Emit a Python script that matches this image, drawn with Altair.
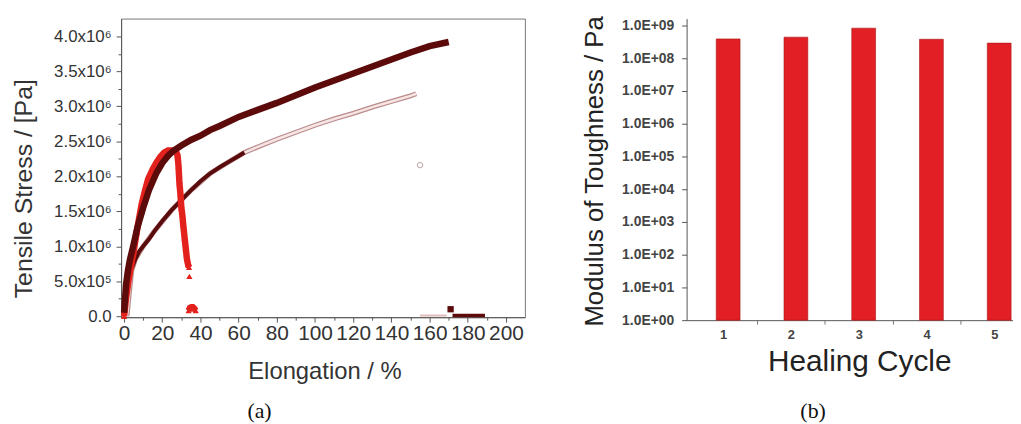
import altair as alt
import pandas as pd

# ---------------- Panel (a): tensile stress (x10^6 Pa) vs elongation (%) ----------------
# bright red triangles
red_x = [0, 1, 2, 3, 4, 5, 6.6, 8, 9.2, 11, 12.6, 15, 17, 19, 21, 23, 25, 27, 28, 28.5, 29, 29.5,
         30, 30.5, 31, 31.7, 32.3, 32.9, 33.5, 34, 34.2, 33.8, 34.5, 35.2, 36, 36.8, 37.5]
red_y = [0.0, 0.25, 0.45, 0.62, 0.78, 0.92, 1.2, 1.42, 1.6, 1.8, 1.96, 2.1, 2.2, 2.28, 2.34, 2.37, 2.37,
         2.37, 2.3, 2.15, 1.9, 1.75, 1.55, 1.45, 1.3, 1.12, 0.97, 0.82, 0.74, 0.7, 0.57,
         0.08, 0.12, 0.13, 0.13, 0.11, 0.08]
red_seg = [1] * 30 + [2] + [3] * 6

# dark maroon squares (upper, thick curve)
dark_x = [0, 1, 2, 3, 5, 7, 10, 13, 17, 20, 23, 26, 30, 35, 40, 45, 50, 60, 70, 80, 90, 100, 110,
          120, 130, 140, 150, 160, 170, 171, 172, 176, 180, 184, 189]
dark_y = [0.05, 0.45, 0.65, 0.8, 1.03, 1.27, 1.55, 1.8, 2.05, 2.19, 2.29, 2.37, 2.44, 2.52, 2.58,
          2.66, 2.72, 2.85, 2.95, 3.05, 3.16, 3.27, 3.37, 3.47, 3.57, 3.67, 3.77, 3.86, 3.92,
          0.1, 0.01, 0.01, 0.01, 0.01, 0.01]
dark_seg = [1] * 29 + [2] + [3] * 5

# dark maroon (lower, thinner curve)
low_x = [4, 6, 8, 10, 13, 16, 20, 25, 30, 35, 40, 45, 50, 55, 60, 63]
low_y = [0.68, 0.82, 0.93, 1.0, 1.1, 1.22, 1.36, 1.52, 1.66, 1.8, 1.93, 2.04, 2.13, 2.21, 2.29, 2.34]

# pale pink open circles
pink_x = [1.5, 2, 2.5, 3, 3.5, 4, 6, 10, 16, 25, 35, 45, 55, 63, 70, 80, 90, 100, 110, 120, 130,
          140, 150, 153, 155, 155, 160, 165, 169]
pink_y = [0.0, 0.12, 0.27, 0.4, 0.52, 0.65, 0.82, 1.0, 1.22, 1.52, 1.8, 2.04, 2.21, 2.34, 2.42,
          2.53, 2.63, 2.73, 2.82, 2.9, 2.99, 3.07, 3.15, 3.18, 2.16, 0.01, 0.01, 0.01, 0.01]
pink_seg = [1] * 24 + [2] + [3] * 4

x_ticks_a = [0, 20, 40, 60, 80, 100, 120, 140, 160, 180, 200]
x_minor_a = [10, 30, 50, 70, 90, 110, 130, 150, 170, 190]
y_ticks_a = [0, 0.5, 1.0, 1.5, 2.0, 2.5, 3.0, 3.5, 4.0]
y_minor_a = [0.25, 0.75, 1.25, 1.75, 2.25, 2.75, 3.25, 3.75]

# ---------------- Panel (b): modulus of toughness ----------------
cycles = [1, 2, 3, 4, 5]
toughness = [3.9e8, 4.4e8, 8.3e8, 3.8e8, 2.9e8]
y_ticks_b = [1e0, 1e1, 1e2, 1e3, 1e4, 1e5, 1e6, 1e7, 1e8, 1e9]
x_band_ticks_b = [1.5, 2.5, 3.5, 4.5]

# ---------------- tables ----------------
def table(name, xs, ys, segs):
    return pd.DataFrame({"series": name, "x": xs, "y": ys, "seg": segs})

df_a = pd.concat([
    table("red", red_x, red_y, red_seg),
    table("dark", dark_x, dark_y, dark_seg),
    table("low", low_x, low_y, [1] * len(low_x)),
    table("pink", pink_x, pink_y, pink_seg),
], ignore_index=True)
df_b = pd.DataFrame({"cycle": cycles, "toughness": toughness})

FONT = "Liberation Sans"
xs_a = alt.Scale(domain=[-1.56, 209.9], nice=False, zero=False)
ys_a = alt.Scale(domain=[-0.014, 4.255], nice=False, zero=False)

x_main = alt.Axis(values=x_ticks_a, title="Elongation / %", grid=False, tickSize=5,
                  labelFontSize=21, labelFont=FONT, labelColor="#333", labelPadding=0,
                  titleFont=FONT, titleFontSize=24, titleFontWeight="normal", titleColor="#333",
                  titleX=205, titleY=62, titleBaseline="alphabetic", titleAnchor="middle",
                  domainColor="#555", tickColor="#555", orient="bottom")
y_main = alt.Axis(values=y_ticks_a, title="Tensile Stress / [Pa]", grid=False, tickSize=5,
                  labelFontSize=17, labelFont=FONT, labelColor="#333", labelPadding=5,
                  labelExpr="datum.value == 0 ? '0.0' : (datum.value < 1 ? format(datum.value * 10, '.1f') + 'x10⁵' : format(datum.value, '.1f') + 'x10⁶')",
                  titleFont=FONT, titleFontSize=25, titleFontWeight="normal", titleColor="#333",
                  titleX=-98, titleY=171, titleAngle=270, titleAlign="center", titleBaseline="middle",
                  domainColor="#555", tickColor="#555", orient="left")
x_minor = alt.Axis(values=x_minor_a, title=None, labels=False, grid=False, tickSize=3,
                   domain=False, tickColor="#555", orient="bottom")
y_minor = alt.Axis(values=y_minor_a, title=None, labels=False, grid=False, tickSize=3,
                   domain=False, tickColor="#555", orient="left")

base = alt.Chart(df_a)

def enc(axis_x=None, axis_y=None, **kw):
    return dict(x=alt.X("x:Q", scale=xs_a, axis=axis_x),
                y=alt.Y("y:Q", scale=ys_a, axis=axis_y), **kw)

pink_outer = base.mark_line(color="#b98c8c", strokeWidth=5).encode(
    **enc(x_main, y_main, detail="seg:N")
).transform_filter("datum.series == 'pink' && datum.seg == 1")
pink_inner = base.mark_line(color="#f7e4e4", strokeWidth=2.5).encode(
    **enc(x_minor, y_minor, detail="seg:N")
).transform_filter("datum.series == 'pink' && datum.seg == 1")
pink_tail = base.mark_line(color="#e2bcbc", strokeWidth=2).encode(
    **enc()
).transform_filter("datum.series == 'pink' && datum.seg == 3")
pink_pt = base.mark_point(shape="circle", filled=False, color="#a08080", size=30, strokeWidth=1).encode(
    **enc()
).transform_filter("datum.series == 'pink' && datum.seg == 2")

low_line = base.mark_line(color="#5a0b0b", strokeWidth=4).encode(
    **enc()
).transform_filter("datum.series == 'low'")

red_line = base.mark_line(color="#e3221d", strokeWidth=6.5).encode(
    **enc(detail="seg:N")
).transform_filter("datum.series == 'red'")
red_pt = base.mark_point(shape="triangle-up", filled=True, color="#e3221d", size=40, opacity=1).encode(
    **enc()
).transform_filter("datum.series == 'red'")

dark_line = base.mark_line(color="#5c0a0a", strokeWidth=6.5).encode(
    **enc()
).transform_filter("datum.series == 'dark' && datum.seg == 1")
dark_tail = base.mark_line(color="#5c0a0a", strokeWidth=3.5).encode(
    **enc()
).transform_filter("datum.series == 'dark' && datum.seg == 3")
dark_pt = base.mark_point(shape="square", filled=True, color="#5c0a0a", size=40, opacity=1).encode(
    **enc()
).transform_filter("datum.series == 'dark' && datum.seg == 2")

panel_a = alt.layer(
    pink_outer, pink_inner, pink_tail, pink_pt, low_line, red_line, red_pt, dark_line, dark_tail, dark_pt,
    view=alt.ViewBackground(stroke="#777", strokeWidth=1),
).resolve_axis(x="independent", y="independent").properties(
    width=407, height=301,
    title=alt.TitleParams("(a)", orient="bottom", anchor="middle", frame="group", dx=-64, offset=18,
                          font="Liberation Serif", fontSize=22, fontWeight="normal", color="#111"),
)

# ---------------- panel (b) ----------------
xs_b = alt.Scale(domain=[0.46, 5.277], nice=False, zero=False, padding=0)
ys_b = alt.Scale(type="log", domain=[1, 1.63e9], nice=False, padding=0)

y_axis_b = alt.Axis(
    values=y_ticks_b, title="Modulus of Toughness / Pa", grid=False, tickSize=5, labelPadding=8,
    labelExpr="'1.0E+0' + round(log(datum.value) / LN10)",
    labelFont=FONT, labelFontSize=14, labelFontWeight="bold", labelColor="#444",
    titleFont=FONT, titleFontSize=26, titleFontWeight="normal", titleColor="#222",
    titleX=-93, titleY=153.5, titleAngle=270, titleAlign="center", titleBaseline="middle",
    domainColor="#555", tickColor="#555", orient="left")

bars = alt.Chart(df_b).mark_bar(size=24, xOffset=5, color="#e31f26", stroke="#a51515", strokeWidth=0.6).encode(
    x=alt.X("cycle:Q", scale=xs_b, axis=alt.Axis(
        values=cycles, title="Healing Cycle", grid=False, ticks=False, labelPadding=8,
        labelFont=FONT, labelFontSize=13, labelFontWeight="bold", labelColor="#444",
        titleFont=FONT, titleFontSize=30, titleFontWeight="normal", titleColor="#222",
        titleX=174, titleY=51, titleBaseline="alphabetic", titleAnchor="middle",
        domainColor="#555", orient="bottom")),
    y=alt.Y("toughness:Q", scale=ys_b, axis=y_axis_b),
    y2=alt.datum(1),
)
band_ticks = alt.Chart(df_b).mark_bar(size=1, opacity=0).encode(
    x=alt.X("cycle:Q", scale=xs_b, axis=alt.Axis(
        values=x_band_ticks_b, title=None, labels=False, grid=False, domain=False,
        tickSize=4, tickColor="#777", orient="bottom")),
    y=alt.Y("toughness:Q", scale=ys_b, axis=None),
    y2=alt.datum(1),
)

panel_b = alt.layer(bars, band_ticks, view=alt.ViewBackground(stroke=None)).resolve_axis(
    x="independent", y="independent").properties(
    width=329, height=304,
    title=alt.TitleParams("(b)", orient="bottom", anchor="middle", frame="group", dx=-37, offset=25,
                          font="Liberation Serif", fontSize=22, fontWeight="normal", color="#111"),
)

chart = alt.hconcat(panel_a, panel_b, spacing=56).properties(
    padding={"left": 3, "top": 5, "right": 0, "bottom": 0},
    background="white",
).configure_view(stroke=None)

chart.save("out.html", embed_options={"renderer": "svg", "actions": False})
